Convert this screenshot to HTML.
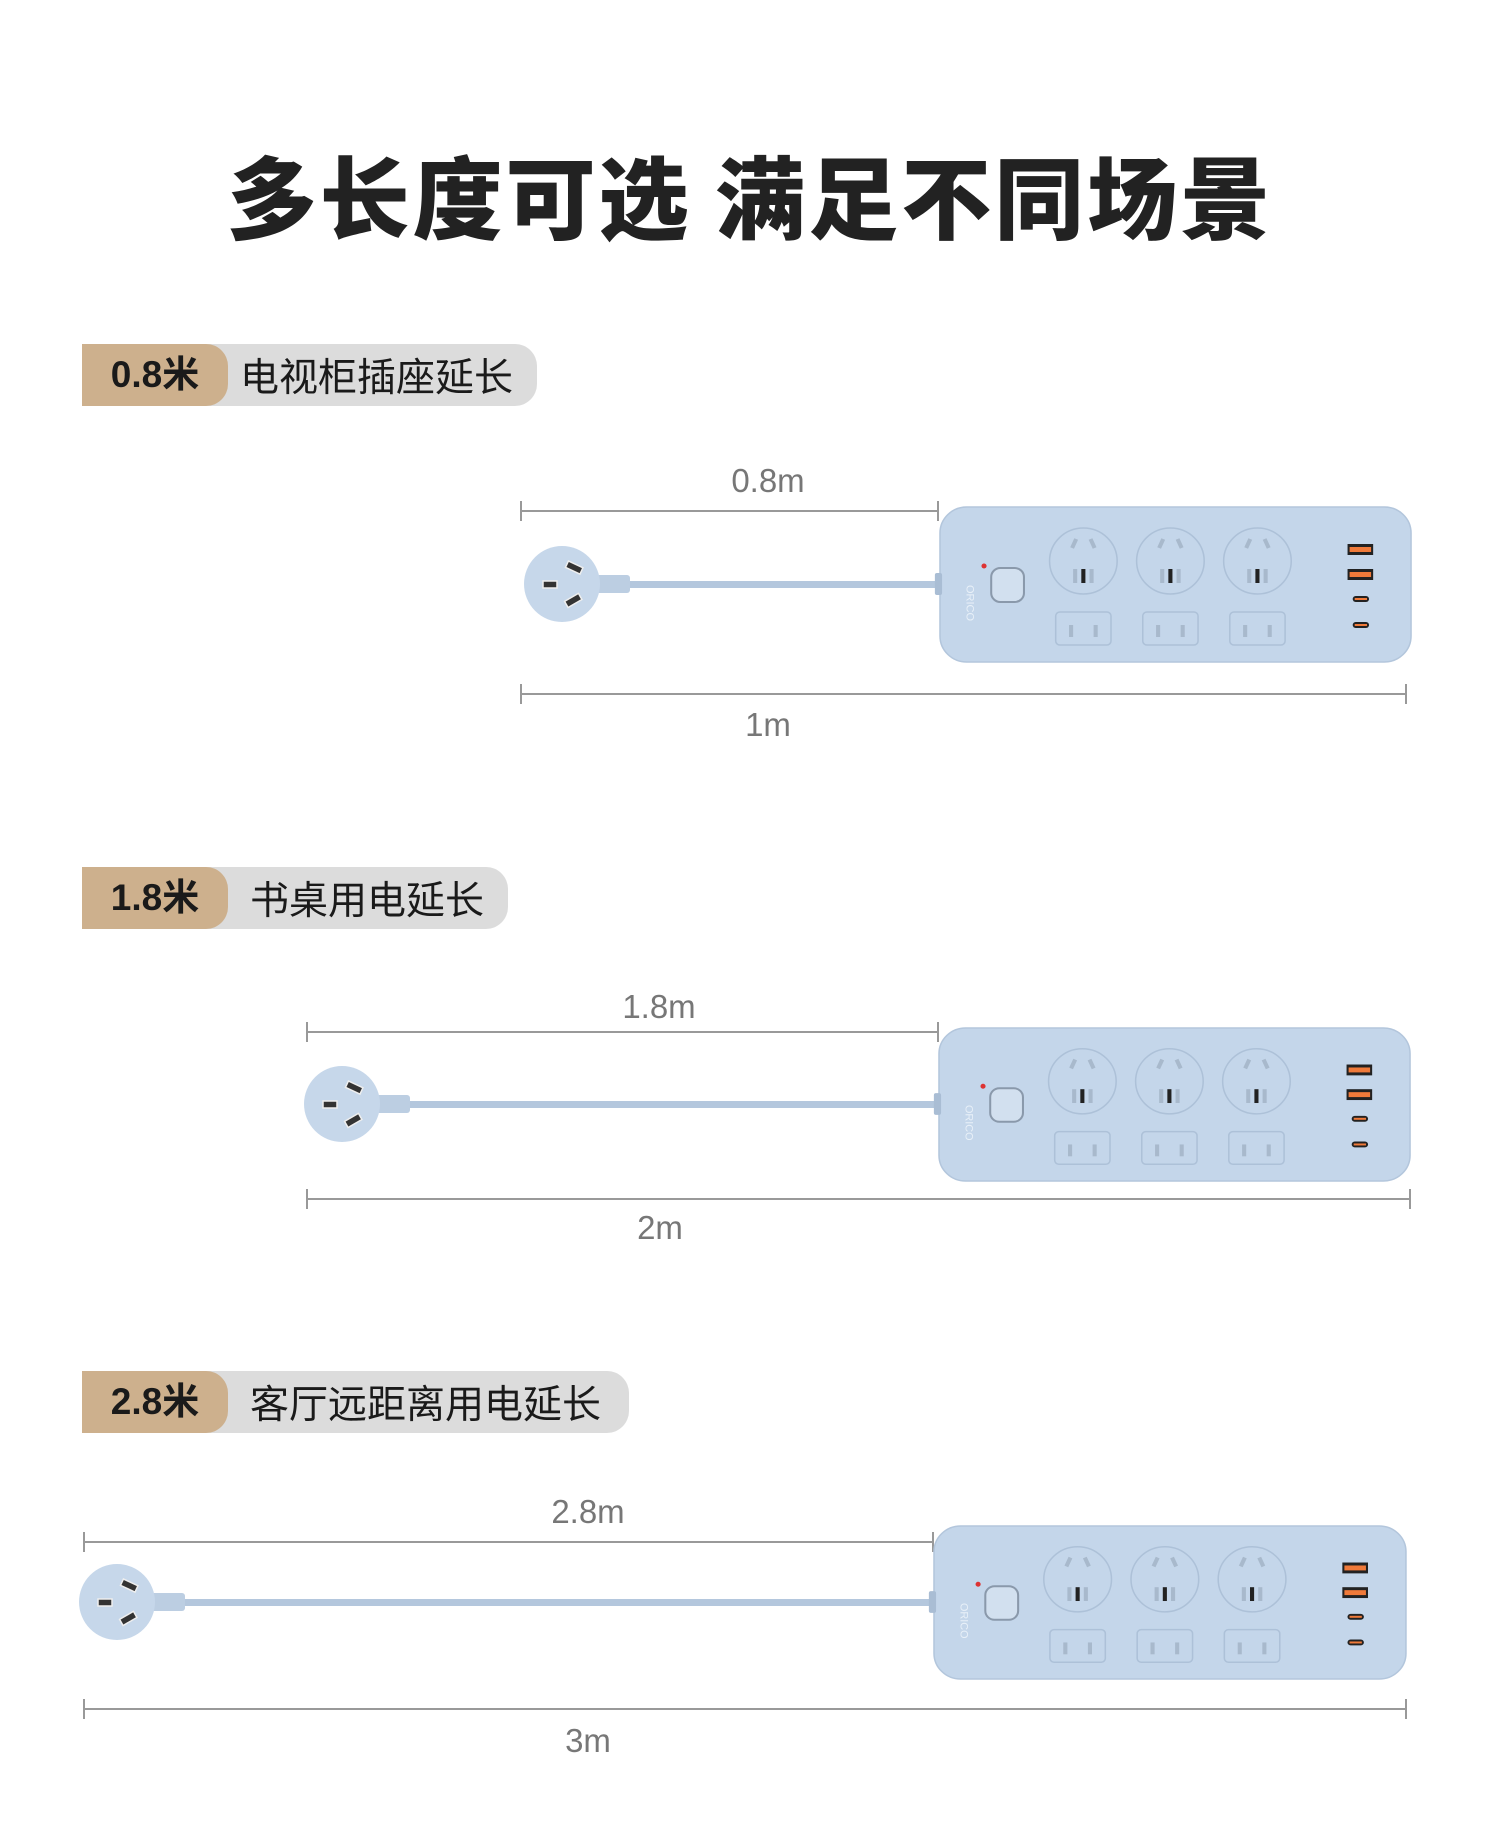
<!DOCTYPE html>
<html><head><meta charset="utf-8"><style>
html,body{margin:0;padding:0;background:#fff;}
body{width:1500px;height:1846px;position:relative;overflow:hidden;font-family:"Liberation Sans","Noto Sans CJK SC",sans-serif;}
.title{position:absolute;left:0;width:1500px;top:140px;text-align:center;font-size:90px;font-weight:900;color:#222;letter-spacing:3px;line-height:106px;font-family:"Noto Sans CJK SC",sans-serif;}
.lab{position:absolute;height:62px;background:#dcdcdc;border-radius:0 22px 22px 0;}
.lab .t{position:absolute;left:0;top:0;height:62px;background:#cdb08d;border-radius:0 22px 22px 0;font-weight:bold;font-size:37px;line-height:62px;text-align:center;color:#1a1a1a;}
.lab .d{position:absolute;top:0;height:62px;line-height:62px;font-size:39px;color:#1a1a1a;font-family:"Noto Sans CJK SC",sans-serif;}
.dim{position:absolute;font-size:33px;color:#777;transform:translateX(-50%);line-height:40px;}
svg{position:absolute;left:0;top:0;}
</style></head><body>
<div class="title">多长度可选 满足不同场景</div>

<div class="lab" style="left:82px;top:344px;width:455px;"><div class="t" style="width:146px;">0.8米</div><div class="d" style="left:158px;">电视柜插座延长</div></div>
<div class="lab" style="left:82px;top:867px;width:426px;"><div class="t" style="width:146px;">1.8米</div><div class="d" style="left:168px;">书桌用电延长</div></div>
<div class="lab" style="left:82px;top:1371px;width:547px;"><div class="t" style="width:146px;">2.8米</div><div class="d" style="left:168px;">客厅远距离用电延长</div></div>

<div class="dim" style="left:768px;top:461px;">0.8m</div>
<div class="dim" style="left:768px;top:705px;">1m</div>
<div class="dim" style="left:659px;top:987px;">1.8m</div>
<div class="dim" style="left:660px;top:1208px;">2m</div>
<div class="dim" style="left:588px;top:1492px;">2.8m</div>
<div class="dim" style="left:588px;top:1721px;">3m</div>

<svg width="1500" height="1846" viewBox="0 0 1500 1846">
<defs>
<g id="strip">
 <rect x="0" y="0" width="460" height="155" rx="26" fill="#c4d6ea" stroke="#b3c6dc" stroke-width="1.5"/>
 <rect x="-5" y="66" width="7" height="22" rx="2" fill="#a9bdd4"/>
 <circle cx="43" cy="59" r="2.5" fill="#d33"/>
 <rect x="50" y="61" width="32" height="34" rx="9" fill="#d2e0ef" stroke="#8a99ab" stroke-width="2"/>
 <g fill="none" stroke="#adc1d8" stroke-width="1.5">
  <circle cx="140" cy="54" r="33"/><circle cx="225" cy="54" r="33"/><circle cx="310" cy="54" r="33"/>
  <rect x="113" y="105" width="54" height="33" rx="4"/><rect x="198" y="105" width="54" height="33" rx="4"/><rect x="283" y="105" width="54" height="33" rx="4"/>
 </g>
 <g fill="#a8b9cc">
  <rect x="130" y="62" width="4" height="14"/><rect x="146" y="62" width="4" height="14"/><rect x="126" y="118" width="4" height="12"/><rect x="150" y="118" width="4" height="12"/>
  <rect x="215" y="62" width="4" height="14"/><rect x="231" y="62" width="4" height="14"/><rect x="211" y="118" width="4" height="12"/><rect x="235" y="118" width="4" height="12"/>
  <rect x="300" y="62" width="4" height="14"/><rect x="316" y="62" width="4" height="14"/><rect x="296" y="118" width="4" height="12"/><rect x="320" y="118" width="4" height="12"/>
 </g>
 <g fill="#222"><rect x="138" y="62" width="4" height="14"/><rect x="223" y="62" width="4" height="14"/><rect x="308" y="62" width="4" height="14"/></g>
 <g stroke="#a8b9cc" stroke-width="4"><line x1="133" y1="32" x2="129" y2="41"/><line x1="147" y1="32" x2="151" y2="41"/><line x1="218" y1="32" x2="214" y2="41"/><line x1="232" y1="32" x2="236" y2="41"/><line x1="303" y1="32" x2="299" y2="41"/><line x1="317" y1="32" x2="321" y2="41"/></g>
 <rect x="398" y="37" width="25" height="11" fill="#222"/><rect x="400" y="40" width="21" height="5" fill="#f07a3a"/>
 <rect x="398" y="62" width="25" height="11" fill="#222"/><rect x="400" y="65" width="21" height="5" fill="#f07a3a"/>
 <rect x="403" y="89" width="16" height="6" rx="3" fill="#222"/><rect x="405" y="91" width="12" height="2" fill="#f07a3a"/>
 <rect x="403" y="115" width="16" height="6" rx="3" fill="#222"/><rect x="405" y="117" width="12" height="2" fill="#f07a3a"/>
 <text x="26" y="78" font-size="11" fill="#e8f0f8" transform="rotate(90 26 78)" font-family="Liberation Sans">ORICO</text>
</g>
<g id="plug">
 <rect x="30" y="-9" width="38" height="18" rx="3" fill="#bccee2"/>
 <circle cx="0" cy="0" r="38" fill="#c6d7ea"/>
 <rect x="-19" y="-3" width="14" height="7" fill="#333" stroke="#eee" stroke-width="1.5"/>
 <rect x="4" y="-20" width="16" height="7" fill="#333" stroke="#eee" stroke-width="1.5" transform="rotate(25 12 -16)"/>
 <rect x="3" y="13" width="16" height="7" fill="#333" stroke="#eee" stroke-width="1.5" transform="rotate(-30 11 16)"/>
</g>
</defs>
<g stroke="#999" stroke-width="2" fill="none">
 <line x1="521" y1="511" x2="938" y2="511"/><line x1="521" y1="501" x2="521" y2="521"/><line x1="938" y1="501" x2="938" y2="521"/>
 <line x1="521" y1="694" x2="1406" y2="694"/><line x1="521" y1="684" x2="521" y2="704"/><line x1="1406" y1="684" x2="1406" y2="704"/>
 <line x1="307" y1="1032" x2="938" y2="1032"/><line x1="307" y1="1022" x2="307" y2="1042"/><line x1="938" y1="1022" x2="938" y2="1042"/>
 <line x1="307" y1="1199" x2="1410" y2="1199"/><line x1="307" y1="1189" x2="307" y2="1209"/><line x1="1410" y1="1189" x2="1410" y2="1209"/>
 <line x1="84" y1="1542" x2="933" y2="1542"/><line x1="84" y1="1532" x2="84" y2="1552"/><line x1="933" y1="1532" x2="933" y2="1552"/>
 <line x1="84" y1="1709" x2="1406" y2="1709"/><line x1="84" y1="1699" x2="84" y2="1719"/><line x1="1406" y1="1699" x2="1406" y2="1719"/>
</g>
<g fill="#b4c7dd">
 <rect x="620" y="581" width="320" height="7"/>
 <rect x="400" y="1101" width="540" height="7"/>
 <rect x="180" y="1599" width="756" height="7"/>
</g>
<use href="#plug" x="562" y="584"/>
<use href="#plug" x="342" y="1104"/>
<use href="#plug" x="117" y="1602"/>
<use href="#strip" transform="translate(940 507) scale(1.024 1)"/>
<use href="#strip" transform="translate(939 1028) scale(1.024 0.987)"/>
<use href="#strip" transform="translate(934 1526) scale(1.026 0.987)"/>
</svg>
</body></html>
